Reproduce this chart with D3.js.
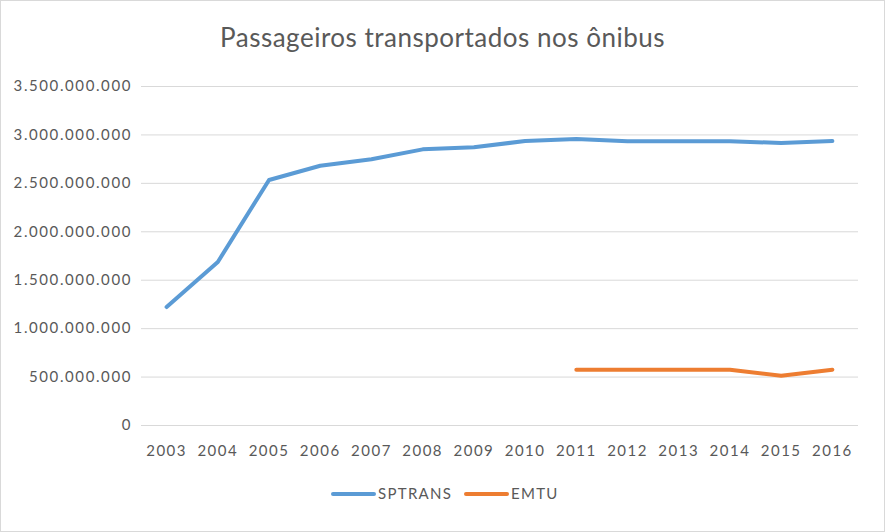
<!DOCTYPE html>
<html>
<head>
<meta charset="utf-8">
<script src="https://cdn.jsdelivr.net/npm/d3@7"></script>
<style>
  body { margin: 0; background: #fff; }
  svg { display: block; }
</style>
</head>
<body>
<svg width="885" height="532"></svg>
<script>
// dados
const years = ["2003", "2004", "2005", "2006", "2007", "2008", "2009", "2010", "2011", "2012", "2013", "2014", "2015", "2016"];
const sptrans = [1218e6, 1683e6, 2530e6, 2677e6, 2743e6, 2846e6, 2867e6, 2932e6, 2953e6, 2929e6, 2929e6, 2929e6, 2912e6, 2932e6];
const emtu = [null, null, null, null, null, null, null, null, 571e6, 571e6, 571e6, 571e6, 509e6, 571e6];
const yTicks = [0, 500e6, 1000e6, 1500e6, 2000e6, 2500e6, 3000e6, 3500e6];
const seriesNames = ["SPTRANS", "EMTU"];
const colors = ["#5b9bd5", "#ed7d31"];

const width = 885, height = 532;
const margin = { left: 141, right: 27, top: 86, bottom: 107 };
const font = "Lato, 'Open Sans', sans-serif";

const svg = d3.select("svg");

// moldura do gráfico
svg.append("rect")
    .attr("x", 0.5).attr("y", 0.5)
    .attr("width", width - 1).attr("height", height - 1)
    .attr("fill", "#fff").attr("stroke", "#d9d9d9");

const x = d3.scaleBand()
    .domain(years)
    .range([margin.left, width - margin.right]);

const y = d3.scaleLinear()
    .domain([0, 3500e6])
    .range([height - margin.bottom, margin.top]);

// formato com ponto como separador de milhar
const fmt = (v) => d3.format(",")(v).replace(/,/g, ".");

// eixo y (linhas de grade)
const yAxis = svg.append("g")
    .attr("transform", `translate(${margin.left},0)`)
    .call(d3.axisLeft(y).tickValues(yTicks).tickFormat(fmt)
        .tickSize(-(width - margin.left - margin.right)).tickPadding(9));
yAxis.select(".domain").remove();
yAxis.selectAll(".tick line").attr("stroke", "#d9d9d9").attr("stroke-width", 1);
yAxis.selectAll(".tick text")
    .attr("fill", "#595959").style("font", `15px ${font}`)
    .style("letter-spacing", "1.6px");

// eixo x
const xAxis = svg.append("g")
    .attr("transform", `translate(0,${height - margin.bottom})`)
    .call(d3.axisBottom(x).tickSize(0).tickPadding(20));
xAxis.select(".domain").remove();
xAxis.selectAll(".tick text")
    .attr("fill", "#595959").style("font", `15px ${font}`)
    .style("letter-spacing", "1.5px");

// linhas
const line = d3.line()
    .defined((d) => d != null)
    .x((d, i) => x(years[i]) + x.bandwidth() / 2)
    .y((d) => y(d));

[sptrans, emtu].forEach((s, k) => {
    svg.append("path")
        .datum(s)
        .attr("fill", "none")
        .attr("stroke", colors[k])
        .attr("stroke-width", 4)
        .attr("stroke-linejoin", "round")
        .attr("stroke-linecap", "round")
        .attr("d", line);
});

// título
svg.append("text")
    .attr("x", width / 2).attr("y", 47)
    .attr("text-anchor", "middle")
    .attr("fill", "#595959")
    .style("font", `26px ${font}`)
    .style("letter-spacing", "0.5px")
    .text("Passageiros transportados nos ônibus");

// legenda
const legendX = [333, 466];
const legend = svg.append("g")
    .selectAll("g")
    .data(seriesNames)
    .join("g")
    .attr("transform", (d, i) => `translate(${legendX[i]},494)`);
legend.append("line")
    .attr("x1", 0).attr("x2", 41)
    .attr("stroke", (d, i) => colors[i])
    .attr("stroke-width", 4)
    .attr("stroke-linecap", "round");
legend.append("text")
    .attr("x", 45).attr("dy", "0.35em")
    .attr("fill", "#595959")
    .style("font", `15px ${font}`)
    .style("letter-spacing", "1.3px")
    .text((d) => d);
</script>
</body>
</html>
